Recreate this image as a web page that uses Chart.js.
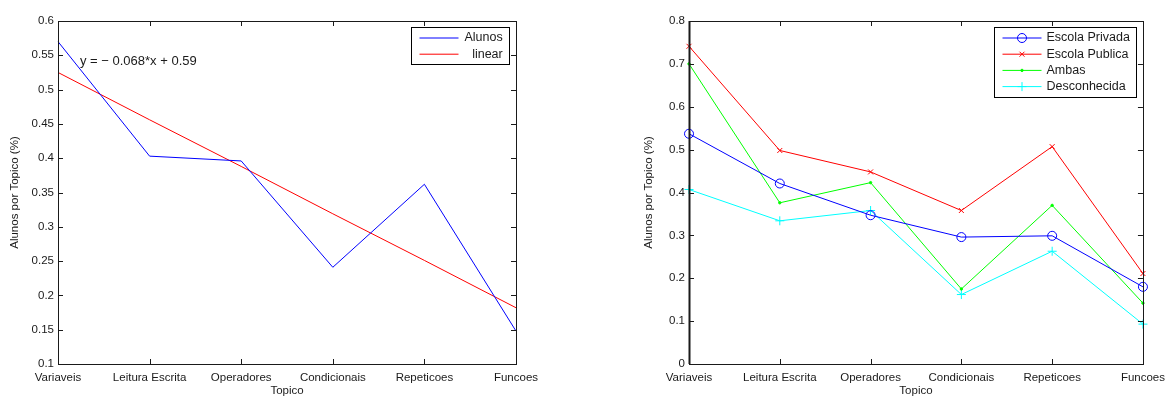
<!DOCTYPE html>
<html>
<head>
<meta charset="utf-8">
<script src="https://cdn.jsdelivr.net/npm/chart.js@4/dist/chart.umd.min.js"></script>
<style>
  body { margin: 0; background: #fff; }
  .box { position: absolute; top: 0; width: 586px; height: 397px; }
  #leftBox { left: 0; }
  #rightBox { left: 586px; }
</style>
</head>
<body>
<div class="box" id="leftBox"><canvas id="leftChart" width="586" height="397"></canvas></div>
<div class="box" id="rightBox"><canvas id="rightChart" width="586" height="397"></canvas></div>
<script>
const topics = ["Variaveis", "Leitura Escrita", "Operadores", "Condicionais", "Repeticoes", "Funcoes"];

// left chart
const alunos = [0.570, 0.403, 0.396, 0.241, 0.362, 0.148];
const linear = [0.525, 0.456, 0.388, 0.319, 0.251, 0.182];
const fitText = "y = \u2212 0.068*x + 0.59";
const leftTicks = ["0.1", "0.15", "0.2", "0.25", "0.3", "0.35", "0.4", "0.45", "0.5", "0.55", "0.6"];

// right chart
const escolaPrivada = [0.537, 0.421, 0.347, 0.296, 0.299, 0.180];
const escolaPublica = [0.741, 0.498, 0.448, 0.358, 0.507, 0.211];
const ambas = [0.700, 0.376, 0.423, 0.175, 0.370, 0.142];
const desconhecida = [0.407, 0.334, 0.358, 0.162, 0.263, 0.093];
const rightTicks = ["0", "0.1", "0.2", "0.3", "0.4", "0.5", "0.6", "0.7", "0.8"];

const FONT = "'Liberation Sans', Arial, sans-serif";
const FSIZE = 11.5;
const LEG = 12.5;
const NOTE = 13;
const INK = "#1a1a1a";

Chart.defaults.font.family = FONT;
Chart.defaults.font.size = FSIZE;
Chart.defaults.color = INK;

// box around the plot with matlab style inward ticks
const frame = {
  id: "frame",
  afterDraw(chart, args, opts) {
    const { ctx, chartArea: a } = chart;
    const xs = chart.scales.x, ys = chart.scales.y;
    const len = 5;
    ctx.save();
    ctx.strokeStyle = INK;
    ctx.lineWidth = 1;
    ctx.beginPath();
    xs.ticks.forEach((t, i) => {
      const px = Math.round(xs.getPixelForTick(i)) + 0.5;
      ctx.moveTo(px, a.top); ctx.lineTo(px, a.top + len);
      ctx.moveTo(px, a.bottom); ctx.lineTo(px, a.bottom - len);
    });
    ys.ticks.forEach((t, i) => {
      const py = Math.round(ys.getPixelForTick(i)) + 0.5;
      ctx.moveTo(a.left, py); ctx.lineTo(a.left + len, py);
      ctx.moveTo(a.right, py); ctx.lineTo(a.right - len, py);
    });
    ctx.stroke();
    ctx.strokeRect(Math.round(a.left) + 0.5, Math.round(a.top) + 0.5,
      Math.round(a.right - a.left), Math.round(a.bottom - a.top));
    if (opts.leftWidth) {
      ctx.lineWidth = opts.leftWidth;
      ctx.beginPath();
      ctx.moveTo(Math.round(a.left) + 0.5, a.top);
      ctx.lineTo(Math.round(a.left) + 0.5, a.bottom);
      ctx.stroke();
    }
    if (opts.note) {
      ctx.fillStyle = INK;
      ctx.font = NOTE + "px " + FONT;
      ctx.textBaseline = "middle";
      ctx.fillText(opts.note, a.left + opts.noteX, a.top + opts.noteY);
    }
    ctx.restore();
  },
};

// legend box inside the plot, top right
const boxLegend = {
  id: "boxLegend",
  afterDraw(chart, args, opts) {
    const { ctx, chartArea: a } = chart;
    const sets = chart.data.datasets;
    ctx.save();
    ctx.font = LEG + "px " + FONT;
    const textW = Math.max(...sets.map((d) => ctx.measureText(d.label).width));
    const lineW = 39;
    const w = 8 + lineW + opts.gap + textW + 7;
    const rowH = 16.2;
    const h = 21 + (sets.length - 1) * rowH;
    const x0 = Math.round(a.right - 7 - w) + 0.5;
    const y0 = Math.round(a.top + 6) + 0.5;
    ctx.fillStyle = "#fff";
    ctx.fillRect(x0, y0, w, h);
    ctx.strokeStyle = "#000";
    ctx.lineWidth = 1;
    ctx.strokeRect(x0, y0, Math.round(w), Math.round(h));
    sets.forEach((d, i) => {
      const y = y0 + 10.5 + i * rowH;
      const lx = x0 + 8;
      ctx.strokeStyle = d.borderColor;
      ctx.lineWidth = 1;
      ctx.beginPath();
      ctx.moveTo(lx, y); ctx.lineTo(lx + lineW, y);
      ctx.stroke();
      if (d.pointRadius > 0) {
        ctx.fillStyle = d.pointBackgroundColor || d.borderColor;
        Chart.helpers.drawPoint(ctx, {
          pointStyle: d.pointStyle, radius: d.pointRadius, rotation: 0, borderWidth: 1,
        }, lx + lineW / 2, y);
      }
      ctx.fillStyle = INK;
      ctx.textBaseline = "middle";
      if (opts.alignRight) {
        ctx.textAlign = "right";
        ctx.fillText(d.label, x0 + w - 7, y);
      } else {
        ctx.textAlign = "left";
        ctx.fillText(d.label, lx + lineW + opts.gap, y);
      }
    });
    ctx.restore();
  },
};

function series(label, data, color, style, radius, fill) {
  return {
    label: label,
    data: data,
    borderColor: color,
    borderWidth: 1,
    backgroundColor: color,
    pointStyle: style,
    pointRadius: radius,
    pointHoverRadius: radius,
    pointBorderColor: color,
    pointBackgroundColor: fill,
    pointBorderWidth: 1,
    tension: 0,
    fill: false,
  };
}

function makeOptions(min, max, labels, yWidth, pad, frameOpts, legendOpts) {
  return {
    responsive: false,
    animation: false,
    layout: { padding: pad },
    scales: {
      x: {
        type: "category",
        offset: false,
        grid: { display: false, drawTicks: false },
        border: { display: false },
        ticks: { maxRotation: 0, minRotation: 0, autoSkip: false, padding: 7, color: INK },
        title: {
          display: true, text: "Topico", color: INK,
          font: { lineHeight: 1.0 }, padding: { top: 0, bottom: 0 },
        },
        afterFit: (s) => { s.height = 33; },
      },
      y: {
        min: min,
        max: max,
        grid: { display: false, drawTicks: false },
        border: { display: false },
        afterBuildTicks: (s) => { s.ticks = labels.map((v) => ({ value: parseFloat(v) })); },
        ticks: { padding: 4, color: INK, callback: (v, i) => labels[i] },
        title: { display: true, text: "Alunos por Topico (%)", color: INK, padding: { top: 8, bottom: 0 } },
        afterFit: (s) => { s.width = yWidth; },
      },
    },
    plugins: {
      legend: { display: false },
      tooltip: { enabled: false },
      frame: frameOpts,
      boxLegend: legendOpts,
    },
  };
}

new Chart(document.getElementById("leftChart"), {
  type: "line",
  data: {
    labels: topics,
    datasets: [
      series("Alunos", alunos, "#0000ff", "circle", 0, "#0000ff"),
      series("linear", linear, "#ff0000", "circle", 0, "#ff0000"),
    ],
  },
  options: makeOptions(0.1, 0.6, leftTicks, 58, { top: 21, right: 70, left: 0, bottom: 0 },
    { note: fitText, noteX: 22, noteY: 40 }, { alignRight: true, gap: 6 }),
  plugins: [frame, boxLegend],
});

new Chart(document.getElementById("rightChart"), {
  type: "line",
  data: {
    labels: topics,
    datasets: [
      series("Escola Privada", escolaPrivada, "#0000ff", "circle", 4.5, "rgba(0,0,0,0)"),
      series("Escola Publica", escolaPublica, "#ff0000", "crossRot", 3.5, "#ff0000"),
      series("Ambas", ambas, "#00ff00", "circle", 1.2, "#00ff00"),
      series("Desconhecida", desconhecida, "#00ffff", "cross", 4.5, "#00ffff"),
    ],
  },
  options: makeOptions(0, 0.8, rightTicks, 55, { top: 21, right: 25, left: 48, bottom: 0 },
    { leftWidth: 2 }, { alignRight: false, gap: 5 }),
  plugins: [frame, boxLegend],
});
</script>
</body>
</html>
